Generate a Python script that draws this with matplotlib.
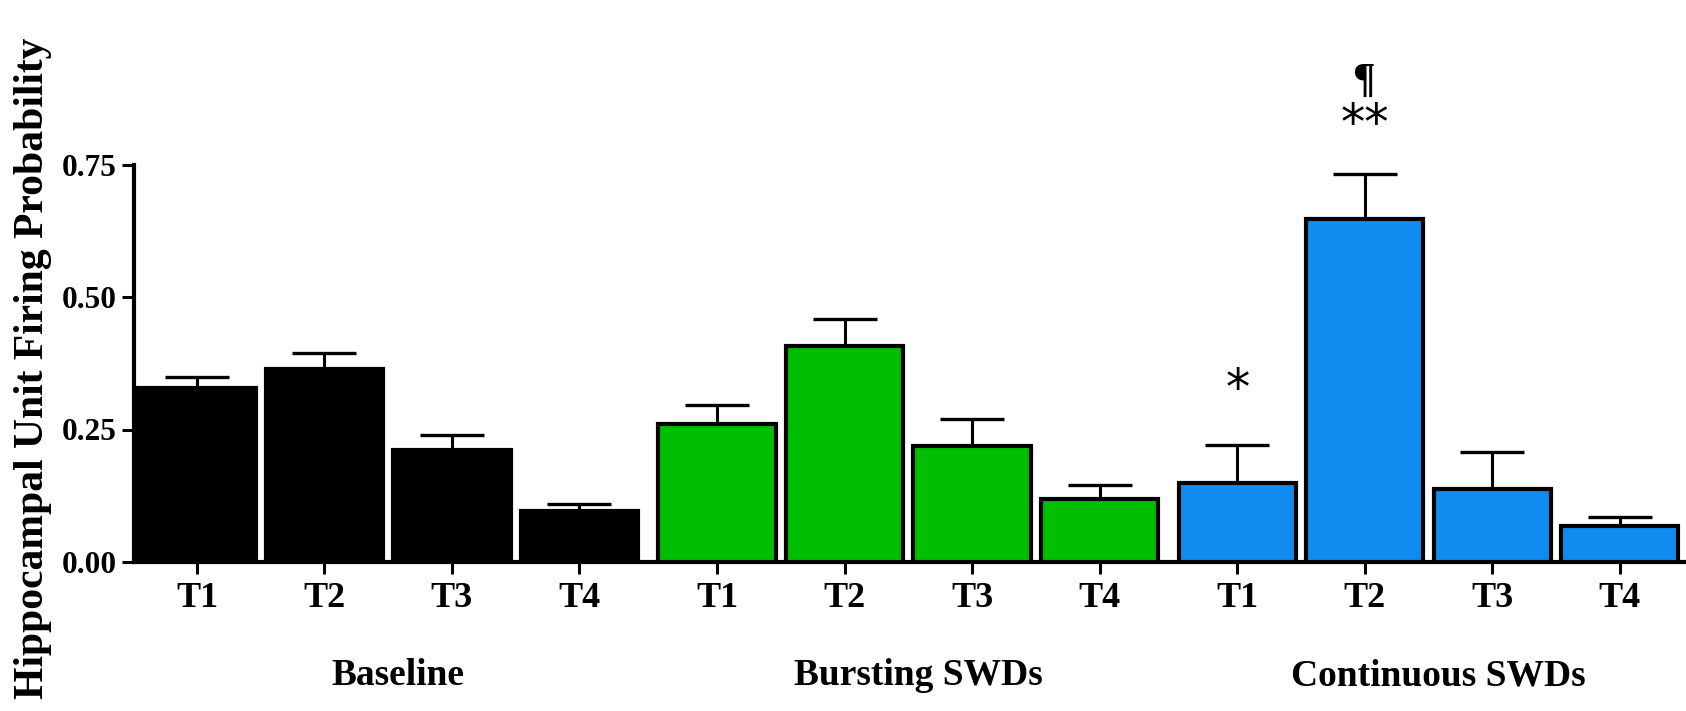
import matplotlib
matplotlib.use('Agg')
import matplotlib.pyplot as plt
import numpy as np

groups = ['Baseline', 'Bursting SWDs', 'Continuous SWDs']
times = ['T1', 'T2', 'T3', 'T4']
baseline = [0.328, 0.365, 0.211, 0.097]
baseline_err = [0.021, 0.030, 0.029, 0.012]
bursting = [0.260, 0.408, 0.219, 0.118]
bursting_err = [0.036, 0.050, 0.050, 0.027]
continuous = [0.150, 0.647, 0.138, 0.067]
continuous_err = [0.070, 0.085, 0.070, 0.017]
colors = ['black', '#00be00', '#108cf0']

# significance marks: (group, time, text, y)
sig_group = [2, 2, 2]
sig_time = [0, 1, 1]
sig_text = ['*', '**', '\u00b6']
sig_y = [0.325, 0.825, 0.905]

plt.rcParams['font.family'] = ['Liberation Serif', 'DejaVu Serif']
plt.rcParams['font.weight'] = 'bold'

W, H = 1686, 711
fig = plt.figure(figsize=(W / 100, H / 100), dpi=100)
ax = fig.add_axes([134 / W, 149 / H, 1 - 134 / W, 530 / H])

group_gap = 4.08
vals = [baseline, bursting, continuous]
errs = [baseline_err, bursting_err, continuous_err]
xt = []
for g in range(3):
    x = np.arange(4) + g * group_gap
    xt.extend(x)
    ax.bar(x, vals[g], width=0.92, color=colors[g], edgecolor='black',
           linewidth=3, zorder=3)
    ax.errorbar(x, vals[g], yerr=[np.zeros(4), errs[g]], fmt='none',
                ecolor='black', elinewidth=2.2, capsize=23, capthick=2.4,
                zorder=2)
    ax.text(x.mean() + 0.08, -0.215, groups[g], transform=ax.get_xaxis_transform(),
            ha='center', va='center', fontsize=27, fontweight='bold')

for g, t, s, y in zip(sig_group, sig_time, sig_text, sig_y):
    if '*' in s:
        ax.text(t + g * group_gap, y, s, ha='center', va='center',
                fontsize=35, family=['DejaVu Sans'], fontweight='normal',
                clip_on=False)
    else:
        ax.text(t + g * group_gap, y, s, ha='center', va='center',
                fontsize=30, fontweight='bold', clip_on=False)

ax.set_xlim(-0.494, 11.68)
ax.set_ylim(0, 1.0)
ax.set_xticks(xt)
ax.set_xticklabels(times * 3, fontsize=26, fontweight='bold')
ax.set_yticks([0, 0.25, 0.5, 0.75])
ax.set_yticklabels(['0.00', '0.25', '0.50', '0.75'], fontsize=22.5,
                   fontweight='bold')
ax.tick_params(axis='both', direction='out', length=8.6, width=2.2)
ax.tick_params(axis='x', pad=6)
ax.tick_params(axis='y', pad=3.6)

for s in ['top', 'right']:
    ax.spines[s].set_visible(False)
ax.spines['left'].set_linewidth(3)
ax.spines['bottom'].set_linewidth(3)
ax.spines['left'].set_bounds(0, 0.75)

ax.set_ylabel('Hippocampal Unit Firing Probability', fontsize=30,
              fontweight='bold')
ax.yaxis.set_label_coords(-0.0528, 0.366)

fig.savefig('out.png', dpi=100)
